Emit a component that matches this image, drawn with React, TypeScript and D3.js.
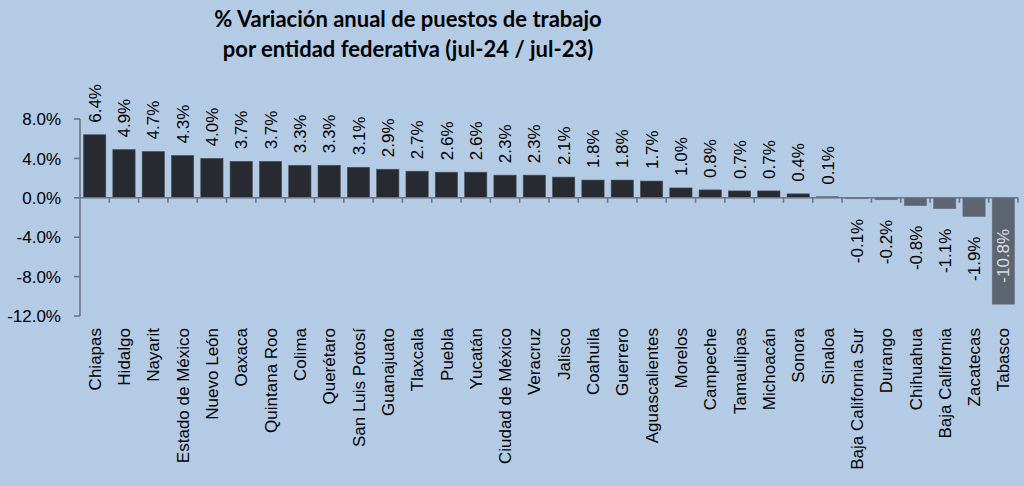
import React, { useEffect, useRef } from 'react';
import * as d3 from 'd3';

// Data
const states = [
  'Chiapas', 'Hidalgo', 'Nayarit', 'Estado de México', 'Nuevo León', 'Oaxaca', 'Quintana Roo',
  'Colima', 'Querétaro', 'San Luis Potosí', 'Guanajuato', 'Tlaxcala', 'Puebla', 'Yucatán',
  'Ciudad de México', 'Veracruz', 'Jalisco', 'Coahuila', 'Guerrero', 'Aguascalientes', 'Morelos',
  'Campeche', 'Tamaulipas', 'Michoacán', 'Sonora', 'Sinaloa', 'Baja California Sur', 'Durango',
  'Chihuahua', 'Baja California', 'Zacatecas', 'Tabasco',
];
const variation = [
  6.4, 4.9, 4.7, 4.3, 4.0, 3.7, 3.7, 3.3, 3.3, 3.1, 2.9, 2.7, 2.6, 2.6, 2.3, 2.3, 2.1, 1.8, 1.8,
  1.7, 1.0, 0.8, 0.7, 0.7, 0.4, 0.1, -0.1, -0.2, -0.8, -1.1, -1.9, -10.8,
];
const yTicks = [8, 4, 0, -4, -8, -12];
const titleLines = [
  '% Variación anual de puestos de trabajo',
  'por entidad federativa (jul-24 / jul-23)',
];

const W = 1024;
const H = 486;

function App() {
  const svgRef = useRef<SVGSVGElement>(null);

  useEffect(() => {
    const svg = d3.select(svgRef.current);
    svg.selectAll('*').remove();

    const data = states.map((s, i) => ({ state: s, value: variation[i] }));

    const x = d3.scaleBand<string>()
      .domain(states)
      .range([80, 1018])
      .paddingInner(0.24)
      .paddingOuter(0.12);
    const y = d3.scaleLinear().domain([-12, 8]).range([316, 119]);

    const font = '"Liberation Sans", Arial, sans-serif';
    const fmt = (v: number) => d3.format('.1f')(v).replace('−', '-') + '%';

    // background
    svg.append('rect').attr('width', W).attr('height', H).attr('fill', '#b4cbe5');

    // title
    svg.append('g')
      .selectAll('text')
      .data(titleLines)
      .enter()
      .append('text')
      .attr('x', 408)
      .attr('y', (d, i) => 27 + i * 30)
      .attr('text-anchor', 'middle')
      .attr('font-family', 'Lato, "Open Sans", sans-serif')
      .attr('font-weight', 'bold')
      .attr('font-size', 22)
      .attr('fill', '#000')
      .text((d) => d);

    // bars
    svg.append('g')
      .selectAll('rect')
      .data(data)
      .enter()
      .append('rect')
      .attr('x', (d) => x(d.state)!)
      .attr('width', x.bandwidth())
      .attr('y', (d) => y(Math.max(0, d.value)))
      .attr('height', (d) => Math.abs(y(d.value) - y(0)))
      .attr('fill', (d) => (d.value < 0 ? '#5c6571' : '#272b31'))
      .attr('stroke', (d) => (d.value < 0 ? '#6a7380' : '#4a4f57'))
      .attr('stroke-width', 0.6);

    // y axis
    const yAxis = svg.append('g').attr('transform', 'translate(80,0)');
    yAxis.append('line')
      .attr('y1', y(8)).attr('y2', y(-12))
      .attr('stroke', '#6b7481').attr('stroke-width', 1.6);
    yAxis.selectAll('.tick')
      .data(yTicks)
      .enter()
      .append('line')
      .attr('x1', -6).attr('x2', 0)
      .attr('y1', (d) => y(d)).attr('y2', (d) => y(d))
      .attr('stroke', '#6b7481').attr('stroke-width', 1.6);
    yAxis.selectAll('text')
      .data(yTicks)
      .enter()
      .append('text')
      .attr('x', -19)
      .attr('y', (d) => y(d))
      .attr('dy', '0.36em')
      .attr('text-anchor', 'end')
      .attr('font-family', font)
      .attr('font-size', 17)
      .attr('fill', '#000')
      .text((d) => fmt(d));

    // x axis at zero, ticks between categories
    const xAxis = svg.append('g');
    xAxis.append('line')
      .attr('x1', 80).attr('x2', 1018)
      .attr('y1', y(0)).attr('y2', y(0))
      .attr('stroke', '#6b7481').attr('stroke-width', 1.6);
    const bounds = states.map((s) => x(s)! + x.bandwidth() + (x.step() - x.bandwidth()) / 2);
    xAxis.selectAll('.tick')
      .data(bounds)
      .enter()
      .append('line')
      .attr('x1', (d) => d).attr('x2', (d) => d)
      .attr('y1', y(0)).attr('y2', y(0) + 5)
      .attr('stroke', '#6b7481').attr('stroke-width', 1.6);

    // category labels
    svg.append('g')
      .selectAll('text')
      .data(states)
      .enter()
      .append('text')
      .attr('transform', (d) => `translate(${x(d)! + x.bandwidth() / 2},328) rotate(-90)`)
      .attr('dy', '0.36em')
      .attr('text-anchor', 'end')
      .attr('font-family', font)
      .attr('font-size', 17)
      .attr('fill', '#000')
      .text((d) => d);

    // value labels
    svg.append('g')
      .selectAll('text')
      .data(data)
      .enter()
      .append('text')
      .attr('transform', (d) => {
        const cx = x(d.state)! + x.bandwidth() / 2;
        let ty;
        if (d.value >= 0) ty = y(d.value) - 12;
        else if (d.value < -5) ty = y(0) + 31;
        else ty = y(d.value) + 20;
        return `translate(${cx},${ty}) rotate(-90)`;
      })
      .attr('dy', '0.36em')
      .attr('text-anchor', (d) => (d.value >= 0 ? 'start' : 'end'))
      .attr('font-family', font)
      .attr('font-size', 17)
      .attr('fill', (d) => (d.value < -5 ? '#d9dde2' : '#000'))
      .text((d) => fmt(d.value));
  }, []);

  return (
    <svg
      ref={svgRef}
      width={W}
      height={H}
      style={{ position: 'absolute', left: 0, top: 0 }}
    ></svg>
  );
}

export default App;
